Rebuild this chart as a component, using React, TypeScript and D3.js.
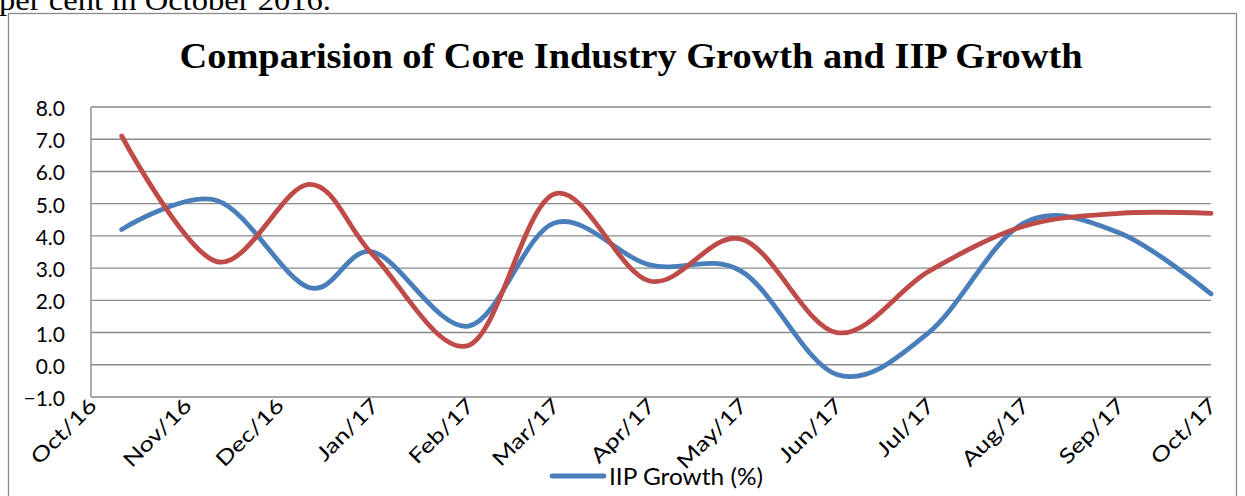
import { useEffect, useRef } from 'react'
import * as d3 from 'd3'

// tick labels on the date axis (one per month start)
const monthLabels = ['Oct/16', 'Nov/16', 'Dec/16', 'Jan/17', 'Feb/17', 'Mar/17', 'Apr/17', 'May/17', 'Jun/17', 'Jul/17', 'Aug/17', 'Sep/17', 'Oct/17']

// dates of the data points as they sit on the date axis
const pointDates = ['2016-10-11', '2016-11-11', '2016-12-11', '2017-01-01', '2017-02-01', '2017-03-01', '2017-04-01', '2017-05-01', '2017-06-01', '2017-07-01', '2017-08-01', '2017-09-01', '2017-10-01']

// IIP growth (%) - blue series
const iipGrowth = [4.2, 5.1, 2.4, 3.5, 1.2, 4.4, 3.1, 2.9, -0.3, 1.0, 4.4, 4.1, 2.2]
// Core industry growth (%) - red series
const coreGrowth = [7.1, 3.2, 5.6, 3.4, 0.6, 5.3, 2.6, 3.9, 1.0, 2.9, 4.3, 4.7, 4.7]

const yTicks = [-1, 0, 1, 2, 3, 4, 5, 6, 7, 8]

interface Point {
  date: Date
  value: number
}

export default function App() {
  const svgRef = useRef<SVGSVGElement>(null)

  useEffect(() => {
    if (!svgRef.current) return

    const svg = d3.select(svgRef.current)
    svg.selectAll('*').remove()

    const W = 1245
    const H = 496
    const plot = { left: 91, right: 1211, top: 107, bottom: 397 }
    const sans = 'Lato, "Open Sans", sans-serif'
    const serif = '"Liberation Serif", "DejaVu Serif", serif'

    svg.attr('width', W).attr('height', H)

    // text of the page above the chart, cut by the top edge as in the source
    svg.append('text')
      .attr('x', -1)
      .attr('y', 10)
      .attr('textLength', 332)
      .attr('lengthAdjust', 'spacingAndGlyphs')
      .style('font-family', serif)
      .style('font-size', '29px')
      .style('fill', '#000')
      .text('per cent in October 2016.')

    // outer chart frame
    svg.append('rect')
      .attr('x', 8.5)
      .attr('y', 13.5)
      .attr('width', 1228)
      .attr('height', 500)
      .attr('fill', 'none')
      .attr('stroke', '#8a8a8a')
      .attr('stroke-width', 1.3)

    // title
    svg.append('text')
      .attr('x', 631)
      .attr('y', 68)
      .attr('text-anchor', 'middle')
      .attr('textLength', 903)
      .attr('lengthAdjust', 'spacingAndGlyphs')
      .style('font-family', serif)
      .style('font-weight', 'bold')
      .style('font-size', '36px')
      .style('fill', '#000')
      .text('Comparision of Core Industry Growth and IIP Growth')

    // scales
    const tickDates = d3.utcMonth.range(new Date(Date.UTC(2016, 9, 1)), new Date(Date.UTC(2017, 10, 1)))
    const x = d3.scaleUtc()
      .domain([tickDates[0], tickDates[tickDates.length - 1]])
      .range([plot.left, plot.right])

    const y = d3.scaleLinear()
      .domain([-1, 8])
      .range([plot.bottom, plot.top])

    // gridlines
    svg.append('g')
      .selectAll('line')
      .data(yTicks)
      .enter().append('line')
      .attr('x1', plot.left)
      .attr('x2', plot.right)
      .attr('y1', d => y(d))
      .attr('y2', d => y(d))
      .attr('stroke', '#8a8a8a')
      .attr('stroke-width', 1.4)

    // y axis line
    svg.append('line')
      .attr('x1', plot.left)
      .attr('x2', plot.left)
      .attr('y1', plot.top)
      .attr('y2', plot.bottom)
      .attr('stroke', '#8a8a8a')
      .attr('stroke-width', 1.4)

    // y labels
    svg.append('g')
      .selectAll('text')
      .data(yTicks)
      .enter().append('text')
      .attr('x', 65)
      .attr('y', d => y(d) + 9)
      .attr('text-anchor', 'end')
      .style('font-family', sans)
      .style('font-size', '21px')
      .style('fill', '#000')
      .text(d => d3.format('.1f')(d))

    // x labels, rotated
    svg.append('g')
      .selectAll('text')
      .data(tickDates)
      .enter().append('text')
      .attr('transform', d => `translate(${x(d) + 7},${plot.bottom + 10}) rotate(-45) scale(1.25,1)`)
      .attr('text-anchor', 'end')
      .style('font-family', sans)
      .style('font-size', '20.5px')
      .style('fill', '#000')
      .text((d, i) => monthLabels[i])

    const line = d3.line<Point>()
      .x(d => x(d.date))
      .y(d => y(d.value))
      .curve(d3.curveCardinal.tension(0))

    const toPoints = (vals: number[]): Point[] =>
      vals.map((v, i) => ({ date: new Date(pointDates[i] + 'T00:00:00Z'), value: v }))

    const series = [
      { values: iipGrowth, color: '#4a7ebb' },
      { values: coreGrowth, color: '#be4b48' }
    ]

    series.forEach(s => {
      svg.append('path')
        .datum(toPoints(s.values))
        .attr('fill', 'none')
        .attr('stroke', s.color)
        .attr('stroke-width', 4.8)
        .attr('stroke-linecap', 'round')
        .attr('stroke-linejoin', 'round')
        .attr('d', line)
    })

    // legend (only the IIP entry is visible)
    svg.append('line')
      .attr('x1', 552)
      .attr('x2', 604)
      .attr('y1', 476)
      .attr('y2', 476)
      .attr('stroke', '#4a7ebb')
      .attr('stroke-width', 4.8)
      .attr('stroke-linecap', 'round')

    svg.append('text')
      .attr('x', 609)
      .attr('y', 485)
      .attr('textLength', 154)
      .attr('lengthAdjust', 'spacingAndGlyphs')
      .style('font-family', sans)
      .style('font-size', '24px')
      .style('fill', '#000')
      .text('IIP Growth (%)')
  }, [])

  return (
    <svg ref={svgRef} style={{ position: 'absolute', left: 0, top: 0, background: '#fff' }}></svg>
  )
}
